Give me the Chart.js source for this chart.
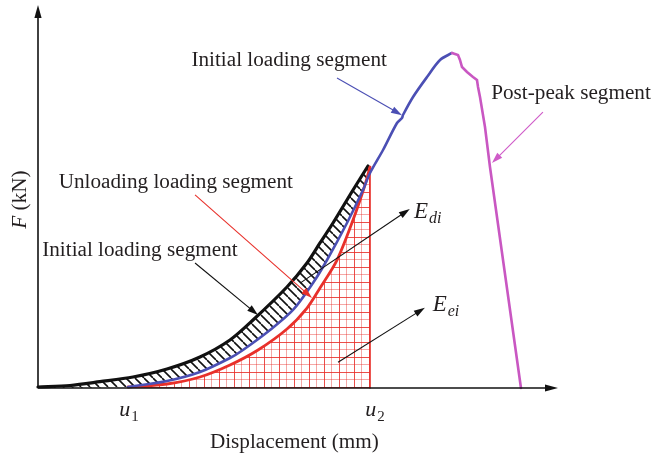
<!DOCTYPE html>
<html>
<head>
<meta charset="utf-8">
<script src="https://cdn.jsdelivr.net/npm/chart.js@4.4.1/dist/chart.umd.min.js"></script>
<style>
  body { margin: 0; background: #fff; }
  #wrap { width: 653px; height: 460px; position: relative; }
</style>
</head>
<body>
<div id="wrap"><canvas id="curveChart"></canvas></div>
<script>
// values, arbitrary units (axes have no ticks)
const loadX = [0, 6.15, 11.92, 18.27, 24.81, 31.15, 36.92, 41.35, 47.88, 51.73, 54.23, 56.73, 60.58, 63.46];
const loadY = [0.26, 0.66, 1.66, 2.89, 5.0, 8.16, 12.63, 17.89, 26.58, 32.89, 38.16, 43.42, 52.11, 58.42];

const reloadX = [17.31, 24.81, 31.15, 36.92, 39.42, 44.62, 49.04, 52.88, 55.58, 59.42, 62.5, 63.85,
  66.35, 69.04, 70.0, 70.19, 72.12, 74.81, 77.31, 79.62];
const reloadY = [0.26, 1.84, 4.21, 7.89, 10.0, 15.26, 20.53, 27.63, 33.68, 43.42, 52.11, 56.58,
  62.63, 69.74, 71.05, 71.84, 76.58, 81.84, 86.32, 88.16];

const unloadX = [17.31, 24.81, 31.15, 36.92, 42.31, 47.88, 51.73, 54.23, 57.5, 60.58, 62.88, 63.85];
const unloadY = [0.26, 1.05, 2.89, 6.05, 10.0, 15.53, 21.05, 26.32, 33.68, 44.21, 53.42, 58.16];

const postPeakX = [79.62, 80.77, 81.15, 81.54, 82.5, 83.65, 84.42, 84.62, 85.0, 85.96, 86.92, 92.88];
const postPeakY = [88.16, 87.63, 86.32, 84.47, 83.16, 81.84, 81.05, 79.21, 76.58, 68.68, 58.16, 0];

const u1 = 17.31;
const u2 = 63.85;
const u2Top = 58.16;

const FONT = '"Liberation Serif", "Times New Roman", serif';
const TEXT = "#231f20";

// text labels and their pointers, in data units
const labels = [
  { text: "Initial loading segment", x: 48.3, y: 86.0 },
  { text: "Post-peak segment", x: 102.5, y: 77.4 },
  { text: "Unloading loading segment", x: 26.5, y: 54.0 },
  { text: "Initial loading segment", x: 19.6, y: 36.1 },
];
const pointers = [
  { from: [57.5, 81.6], to: [70.0, 71.8], color: "#4b4fb4" },
  { from: [97.1, 72.6], to: [87.3, 59.2], color: "#cf5cc8" },
  { from: [30.2, 50.8], to: [52.7, 23.7], color: "#e8302a" },
  { from: [30.2, 32.9], to: [42.3, 19.2], color: "#111" },
  { from: [50.4, 27.6], to: [71.5, 47.1], color: "#111" },
  { from: [57.7, 6.8], to: [74.4, 21.1], color: "#111" },
];
const energyLabels = [
  { main: "E", sub: "di", x: 72.3, y: 46.8 },
  { main: "E", sub: "ei", x: 75.9, y: 22.4 },
];

function pts(xs, ys) {
  return xs.map((x, i) => ({ x: x, y: ys[i] }));
}

// lower edge of the hatched band: the axis up to u1, then the reloading curve
const hatchEdge = [{ x: 0, y: 0 }].concat(pts(reloadX.slice(0, 11), reloadY.slice(0, 11)), [{ x: 63.46, y: 55.2 }]);

// red grid pattern
const gridTile = document.createElement("canvas");
gridTile.width = 15; gridTile.height = 15;
let g = gridTile.getContext("2d");
g.fillStyle = "rgba(232,48,42,0.85)";
g.fillRect(0, 0, 1, 15); g.fillRect(0, 0, 15, 1);
g.fillStyle = "rgba(232,48,42,0.42)";
g.fillRect(7, 0, 1, 15); g.fillRect(0, 7, 15, 1);

// black hatch pattern
const hatchTile = document.createElement("canvas");
hatchTile.width = 9; hatchTile.height = 9;
let h = hatchTile.getContext("2d");
h.strokeStyle = "#111";
h.lineWidth = 1.6;
[-9, 0, 9].forEach((k) => {
  h.beginPath(); h.moveTo(0, k); h.lineTo(9, 9 + k); h.stroke();
});

const ctx0 = document.getElementById("curveChart").getContext("2d");
const gridPattern = ctx0.createPattern(gridTile, "repeat");
const hatchPattern = ctx0.createPattern(hatchTile, "repeat");

function drawArrow(ctx, x1, y1, x2, y2, color, width, len, half) {
  const a = Math.atan2(y2 - y1, x2 - x1);
  const c = Math.cos(a), s = Math.sin(a);
  ctx.strokeStyle = color;
  ctx.fillStyle = color;
  ctx.lineWidth = width;
  ctx.beginPath();
  ctx.moveTo(x1, y1);
  ctx.lineTo(x2 - c * len * 0.7, y2 - s * len * 0.7);
  ctx.stroke();
  ctx.beginPath();
  ctx.moveTo(x2, y2);
  ctx.lineTo(x2 - c * len + s * half, y2 - s * len - c * half);
  ctx.lineTo(x2 - c * len - s * half, y2 - s * len + c * half);
  ctx.closePath();
  ctx.fill();
}

function subText(ctx, main, sub, x, y, size, italicSub, align) {
  ctx.font = "italic " + size + "px " + FONT;
  const w1 = ctx.measureText(main).width;
  const subFont = (italicSub ? "italic " : "") + Math.round(size * 0.7) + "px " + FONT;
  ctx.font = subFont;
  const w2 = ctx.measureText(sub).width;
  let left = align === "center" ? x - (w1 + w2 + 1) / 2 : x;
  ctx.textAlign = "left";
  ctx.textBaseline = "alphabetic";
  ctx.font = "italic " + size + "px " + FONT;
  ctx.fillText(main, left, y);
  ctx.font = subFont;
  ctx.fillText(sub, left + w1 + 1, y + size * 0.22);
}

// serif text slightly widened to match the wider face of the original
function wideText(ctx, text, x, y, size, italic) {
  ctx.save();
  ctx.font = (italic ? "italic " : "") + size + "px " + FONT;
  ctx.textAlign = "center";
  ctx.textBaseline = "middle";
  ctx.translate(x, y);
  ctx.scale(1.06, 1);
  ctx.fillText(text, 0, 0);
  ctx.restore();
}

const sketchPlugin = {
  id: "sketch",
  beforeDatasetsDraw(chart) {
    const xs = chart.scales.x, ys = chart.scales.y;
    const px = xs.getPixelForValue(u2), py = ys.getPixelForValue(0);
    gridPattern.setTransform(new DOMMatrix([1, 0, 0, 1, Math.round(px) - 1, Math.round(py) - 1]));
  },
  afterDraw(chart) {
    const ctx = chart.ctx;
    const xs = chart.scales.x, ys = chart.scales.y;
    const X = (v) => xs.getPixelForValue(v);
    const Y = (v) => ys.getPixelForValue(v);
    ctx.save();

    // axes with arrow heads
    const ox = X(0), oy = Y(0);
    drawArrow(ctx, ox, oy, ox, chart.chartArea.top - 3, "#111", 1.6, 13, 3.6);
    drawArrow(ctx, ox, oy, X(100), oy, "#111", 1.6, 13, 3.6);

    pointers.forEach((p) => {
      drawArrow(ctx, X(p.from[0]), Y(p.from[1]), X(p.to[0]), Y(p.to[1]), p.color, 1.1, 11, 3.5);
    });

    ctx.fillStyle = TEXT;
    labels.forEach((l) => wideText(ctx, l.text, X(l.x), Y(l.y), 20, false));

    energyLabels.forEach((e) => {
      ctx.fillStyle = TEXT;
      subText(ctx, e.main, e.sub, X(e.x), Y(e.y) + 8, 23, true, "left");
    });

    ctx.fillStyle = TEXT;
    subText(ctx, "u", "1", X(u1) + 1, oy + 28, 22, false, "center");
    subText(ctx, "u", "2", X(u2) + 5, oy + 28, 22, false, "center");

    // axis titles
    wideText(ctx, "Displacement (mm)", X(49.3), oy + 55, 20, false);

    ctx.translate(21, Y(49.6));
    ctx.rotate(-Math.PI / 2);
    ctx.scale(1.06, 1);
    ctx.font = "italic 20px " + FONT;
    const fw = ctx.measureText("F").width;
    ctx.font = "20px " + FONT;
    const rw = ctx.measureText(" (kN)").width;
    ctx.textAlign = "left";
    ctx.textBaseline = "middle";
    ctx.font = "italic 20px " + FONT;
    ctx.fillText("F", -(fw + rw) / 2, 0);
    ctx.font = "20px " + FONT;
    ctx.fillText(" (kN)", -(fw + rw) / 2 + fw, 0);
    ctx.restore();
  },
};

new Chart(ctx0, {
  type: "line",
  data: {
    datasets: [
      {
        label: "Post-peak segment",
        data: pts(postPeakX, postPeakY),
        borderColor: "#c957c2",
        borderWidth: 2.6,
        tension: 0,
        fill: false,
      },
      {
        label: "Reloading",
        data: pts(reloadX, reloadY),
        borderColor: "#4b4fb4",
        borderWidth: 2.6,
        tension: 0.3,
        fill: false,
      },
      {
        label: "Unloading",
        data: pts(unloadX, unloadY),
        borderColor: "#e8302a",
        borderWidth: 2.8,
        tension: 0.3,
        fill: "origin",
        backgroundColor: gridPattern,
      },
      {
        label: "u2",
        data: [{ x: u2, y: 0 }, { x: u2, y: u2Top }],
        borderColor: "#e8302a",
        borderWidth: 1.6,
        fill: false,
      },
      {
        label: "Initial loading",
        data: pts(loadX, loadY),
        borderColor: "#111",
        borderWidth: 3.2,
        tension: 0.3,
        fill: 5,
        backgroundColor: hatchPattern,
      },
      {
        label: "hatch edge",
        data: hatchEdge,
        borderColor: "rgba(0,0,0,0)",
        borderWidth: 0,
        tension: 0.3,
        fill: false,
      },
    ],
  },
  options: {
    responsive: true,
    maintainAspectRatio: false,
    animation: false,
    devicePixelRatio: 1,
    layout: { padding: { left: 38, right: 95, top: 8, bottom: 72 } },
    plugins: { legend: { display: false }, tooltip: { enabled: false } },
    elements: { point: { radius: 0 }, line: { borderCapStyle: "round" } },
    datasets: { line: { clip: false } },
    scales: {
      x: { type: "linear", min: 0, max: 100, display: false },
      y: { type: "linear", min: 0, max: 100, display: false },
    },
  },
  plugins: [sketchPlugin],
});
</script>
</body>
</html>
